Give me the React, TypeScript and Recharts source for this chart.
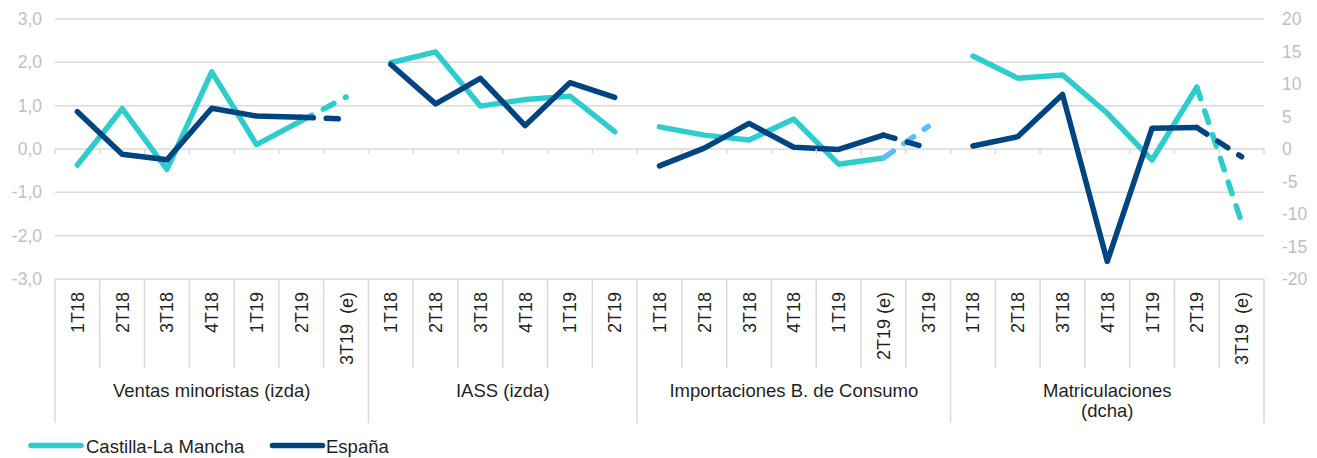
import { CartesianGrid, Legend, Line, LineChart, XAxis, YAxis } from "recharts";

const CLM = "#2dcccd";
const ESP = "#004481";
const CLM_EST = "#5bbeff";
const GRID = "#d9d9d9";
const AXIS_TEXT = "#bfbfbf";
const TEXT = "#1f1f1f";
const FONT = '"Liberation Sans", Arial, sans-serif';

// categories
const groupNames = [
  "Ventas minoristas (izda)",
  "IASS (izda)",
  "Importaciones B. de Consumo",
  "Matriculaciones\n(dcha)",
];
const ventasQuarters = ["1T18", "2T18", "3T18", "4T18", "1T19", "2T19", "3T19  (e)"];
const iassQuarters = ["1T18", "2T18", "3T18", "4T18", "1T19", "2T19"];
const importQuarters = ["1T18", "2T18", "3T18", "4T18", "1T19", "2T19 (e)", "3T19"];
const matricQuarters = ["1T18", "2T18", "3T18", "4T18", "1T19", "2T19", "3T19  (e)"];

// series values (% var.)
const ventasClm = [-0.37, 0.93, -0.47, 1.78, 0.1, 0.65, 1.2];
const ventasEsp = [0.86, -0.12, -0.25, 0.94, 0.76, 0.73, 0.69];
const iassClm = [1.99, 2.24, 0.99, 1.14, 1.22, 0.4];
const iassEsp = [1.95, 1.04, 1.63, 0.54, 1.53, 1.19];
const importClm = [0.51, 0.32, 0.21, 0.69, -0.35, -0.21, 0.52];
const importEsp = [-0.39, 0.02, 0.59, 0.04, -0.01, 0.32, 0.02];
const matricClm = [14.3, 10.9, 11.4, 5.5, -1.7, 9.5, -11.3];
const matricEsp = [0.46, 1.9, 8.4, -17.3, 3.2, 3.3, -1.2];

// index inside each group where the estimate (dashed) part starts, -1 = none
const estimateFrom = [5, -1, 5, 5];
const groupAxis = ["left", "left", "left", "right"];

const leftTicks = [-3, -2, -1, 0, 1, 2, 3];
const rightTicks = [-20, -15, -10, -5, 0, 5, 10, 15, 20];

const quarterLabels = [ventasQuarters, iassQuarters, importQuarters, matricQuarters];
const clmValues = [ventasClm, iassClm, importClm, matricClm];
const espValues = [ventasEsp, iassEsp, importEsp, matricEsp];

const W = 1317;
const H = 458;
const PLOT_TOP = 19;
const PLOT_BOTTOM = 279;
const PLOT_LEFT = 55;
const PLOT_RIGHT = 1264;

type Row = { key: string; label: string; group: number; pos: number; [k: string]: any };

const rows: Row[] = [];
quarterLabels.forEach((labels, g) => {
  labels.forEach((label, i) => {
    const est = estimateFrom[g];
    const row: Row = { key: `${g}-${i}`, label, group: g, pos: i };
    row[`g${g}clm`] = est < 0 || i <= est ? clmValues[g][i] : null;
    row[`g${g}esp`] = est < 0 || i <= est ? espValues[g][i] : null;
    row[`g${g}clmE`] = est >= 0 && i >= est ? clmValues[g][i] : null;
    row[`g${g}espE`] = est >= 0 && i >= est ? espValues[g][i] : null;
    rows.push(row);
  });
});

const zeroY =
  PLOT_TOP +
  ((PLOT_BOTTOM - PLOT_TOP) * leftTicks[leftTicks.length - 1]) /
    (leftTicks[leftTicks.length - 1] - leftTicks[0]);

function CategoryTick(props: any) {
  const { x, y, payload } = props;
  const row = rows.find((r) => r.key === payload.value);
  if (!row) return null;
  const half = (PLOT_RIGHT - PLOT_LEFT) / rows.length / 2;
  const left = x - half;
  const right = x + half;
  const groupStart = row.pos === 0;
  const isLast = row.key === rows[rows.length - 1].key;
  const size = quarterLabels[row.group].length;
  const lines = groupNames[row.group].split("\n");

  return (
    <g>
      <line x1={left} x2={left} y1={zeroY} y2={zeroY + 5} stroke={GRID} strokeWidth={1.5} />
      <line x1={left} x2={left} y1={y} y2={y + (groupStart ? 144 : 89)} stroke={GRID} strokeWidth={1.5} />
      {isLast && (
        <>
          <line x1={right} x2={right} y1={zeroY} y2={zeroY + 5} stroke={GRID} strokeWidth={1.5} />
          <line x1={right} x2={right} y1={y} y2={y + 144} stroke={GRID} strokeWidth={1.5} />
        </>
      )}
      <text
        transform={`translate(${x + 6.5}, ${y + 13}) rotate(-90)`}
        textAnchor="end"
        fontSize={18}
        fontFamily={FONT}
        fill={TEXT}
        style={{ whiteSpace: "pre" }}
      >
        {row.label}
      </text>
      {groupStart && (
        <text
          x={left + size * half}
          y={y + 118}
          textAnchor="middle"
          fontSize={18.5}
          fontFamily={FONT}
          fill={TEXT}
        >
          {lines.map((t, i) => (
            <tspan key={i} x={left + size * half} dy={i === 0 ? 0 : 20}>
              {t}
            </tspan>
          ))}
        </text>
      )}
    </g>
  );
}

function LeftTick(props: any) {
  const { y, payload } = props;
  return (
    <text x={PLOT_LEFT - 13} y={y + 6} textAnchor="end" fontSize={17.5} fontFamily={FONT} fill={AXIS_TEXT}>
      {Number(payload.value).toFixed(1).replace(".", ",")}
    </text>
  );
}

function RightTick(props: any) {
  const { y, payload } = props;
  return (
    <text x={PLOT_RIGHT + 18} y={y + 6} textAnchor="start" fontSize={17.5} fontFamily={FONT} fill={AXIS_TEXT}>
      {payload.value}
    </text>
  );
}

function LegendContent() {
  return (
    <svg width={420} height={24} style={{ display: "block" }}>
      <line x1={31} x2={81} y1={11.5} y2={11.5} stroke={CLM} strokeWidth={5.5} strokeLinecap="round" />
      <text x={86} y={18.5} fontSize={18.5} fontFamily={FONT} fill={TEXT}>
        Castilla-La Mancha
      </text>
      <line x1={272.5} x2={322.5} y1={11.5} y2={11.5} stroke={ESP} strokeWidth={5.5} strokeLinecap="round" />
      <text x={326} y={18.5} fontSize={18.5} fontFamily={FONT} fill={TEXT}>
        España
      </text>
    </svg>
  );
}

export default function App() {
  const lineProps = {
    dot: false,
    activeDot: false,
    isAnimationActive: false,
    connectNulls: false,
    strokeWidth: 5.5,
    strokeLinecap: "round" as const,
    strokeLinejoin: "round" as const,
    legendType: "none" as const,
  };

  return (
    <div style={{ position: "fixed", left: 0, top: 0, width: W, height: H, background: "#fff" }}>
      <LineChart
        width={W}
        height={H}
        data={rows}
        margin={{ top: PLOT_TOP, right: 0, bottom: 0, left: 0 }}
      >
        <CartesianGrid yAxisId="left" vertical={false} stroke={GRID} strokeWidth={1.5} />
        <XAxis
          dataKey="key"
          scale="band"
          interval={0}
          height={H - PLOT_BOTTOM}
          tickLine={false}
          axisLine={false}
          tickSize={0}
          tickMargin={0}
          tick={<CategoryTick />}
        />
        <YAxis
          yAxisId="left"
          orientation="left"
          width={PLOT_LEFT}
          domain={[leftTicks[0], leftTicks[leftTicks.length - 1]]}
          ticks={leftTicks}
          tickLine={false}
          axisLine={false}
          tick={<LeftTick />}
        />
        <YAxis
          yAxisId="right"
          orientation="right"
          width={W - PLOT_RIGHT}
          domain={[rightTicks[0], rightTicks[rightTicks.length - 1]]}
          ticks={rightTicks}
          tickLine={false}
          axisLine={false}
          tick={<RightTick />}
        />
        <Legend
          layout="vertical"
          align="center"
          verticalAlign="middle"
          wrapperStyle={{ left: 0, top: 434, width: 420, height: 24 }}
          content={<LegendContent />}
        />
        {groupNames.map((_, g) => [
          <Line key={`c${g}`} {...lineProps} yAxisId={groupAxis[g]} dataKey={`g${g}clm`} stroke={CLM} />,
          estimateFrom[g] >= 0 && (
            <Line
              key={`ce${g}`}
              {...lineProps}
              yAxisId={groupAxis[g]}
              dataKey={`g${g}clmE`}
              stroke={g === 2 ? CLM_EST : CLM}
              strokeDasharray="12 13"
            />
          ),
          <Line key={`e${g}`} {...lineProps} yAxisId={groupAxis[g]} dataKey={`g${g}esp`} stroke={ESP} />,
          estimateFrom[g] >= 0 && (
            <Line
              key={`ee${g}`}
              {...lineProps}
              yAxisId={groupAxis[g]}
              dataKey={`g${g}espE`}
              stroke={ESP}
              strokeDasharray="12 13"
            />
          ),
        ])}
      </LineChart>
    </div>
  );
}
